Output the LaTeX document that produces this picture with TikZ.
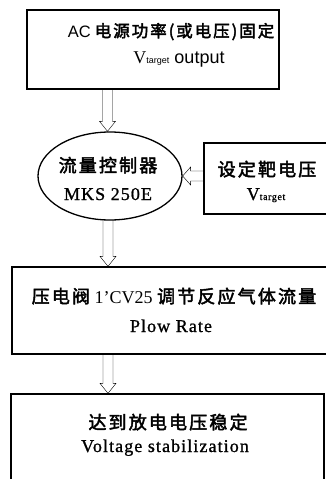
\documentclass[tikz,border=0pt]{standalone}
\usepackage{fontspec}
\setmainfont{Liberation Serif}
\setsansfont{Liberation Sans}
\newfontfamily\cjk{Noto Sans CJK SC}[FakeBold=2.5,LetterSpace=12]
\usetikzlibrary{shapes.geometric}
\tikzset{
  box/.style={draw, line width=1.3pt, inner sep=0pt, rectangle},
  txt/.style={inner sep=0pt, anchor=base},
  zh/.style={font=\fontsize{18}{20}\cjk},
  en/.style={font=\fontsize{18}{20}\selectfont\addfontfeature{LetterSpace=6,FakeBold=1}},
  hdown/.style={line width=1.5pt, to path={
    ([xshift=-5pt]\tikztostart) -- ([xshift=-5pt,yshift=10pt]\tikztotarget)
    -- ([xshift=-8pt,yshift=10pt]\tikztotarget) -- (\tikztotarget)
    -- ([xshift=8pt,yshift=10pt]\tikztotarget) -- ([xshift=5pt,yshift=10pt]\tikztotarget)
    -- ([xshift=5pt]\tikztostart)}},
  hleft/.style={line width=1.5pt, to path={
    ([yshift=5pt]\tikztostart) -- ([yshift=5pt,xshift=8pt]\tikztotarget)
    -- ([yshift=9pt,xshift=8pt]\tikztotarget) -- (\tikztotarget)
    -- ([yshift=-9pt,xshift=8pt]\tikztotarget) -- ([yshift=-5pt,xshift=8pt]\tikztotarget)
    -- ([yshift=-5pt]\tikztostart)}},
}
\begin{document}
\begin{tikzpicture}[x=1pt,y=-1pt]
\useasboundingbox (0,0) rectangle (326,479);
\clip (0,0) rectangle (326,479);
% boxes
\node[box, minimum width=252pt, minimum height=79pt] (b1) at (153,49.5) {};
\node[box, shape=ellipse, minimum width=144pt, minimum height=88pt] (ell) at (110,176) {};
\node[box, minimum width=136pt, minimum height=71pt] (b2) at (272,178.5) {};
\node[box, minimum width=328pt, minimum height=87pt] (b3) at (176,310.5) {};
\node[box, minimum width=313pt, minimum height=96pt] (b4) at (167.5,442) {};
% texts
\node[txt, font=\fontsize{16.5}{20}\selectfont] (t1a) at (171,37) {{\sffamily AC} {\cjk 电源功率(或电压)固定}};
\node[txt, font=\fontsize{18}{20}\sffamily] (t1b) at (179,63) {{\rmfamily V}{\fontsize{9}{10}\selectfont target} output};
\node[txt, zh] (tea) at (108,172) {流量控制器};
\node[txt, en] (teb) at (108,200) {MKS 250E};
\node[txt, zh] (t2a) at (267,176) {设定靶电压};
\node[txt, en] (t2b) at (266,200) {V{\fontsize{10}{11}\selectfont target}};
\node[txt, font=\fontsize{18}{20}\selectfont] (t3a) at (174,303) {{\cjk 压电阀} 1'CV25 {\cjk 调节反应气体流量}};
\node[txt, en] (t3b) at (171,332) {Plow Rate};
\node[txt, zh] (t4a) at (168,429) {达到放电电压稳定};
\node[txt, en] (t4b) at (165,452) {Voltage stabilization};
% arrow anchors
\coordinate (a1s) at (107.5,89);
\coordinate (a1e) at (a1s |- ell.north);
\coordinate (a2s) at (108,220);
\coordinate (a2e) at (a2s |- b3.north);
\coordinate (a3s) at (108,354);
\coordinate (a3e) at (a3s |- b4.north);
\coordinate (a4s) at (b2.west |- ell.east);
% arrows
\draw (a1s) to[hdown] (a1e);
\draw (a2s) to[hdown] (a2e);
\draw (a3s) to[hdown] (a3e);
\draw (a4s) to[hleft] (ell.east);
\end{tikzpicture}
\end{document}
